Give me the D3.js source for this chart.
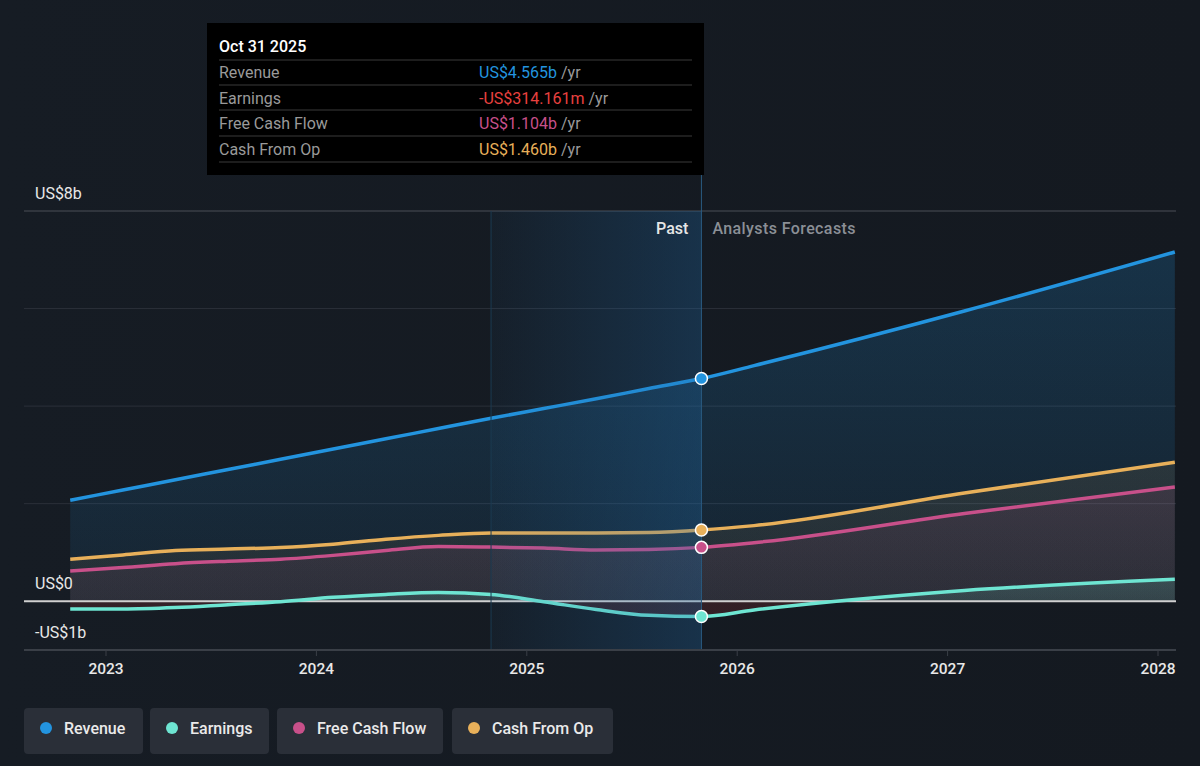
<!DOCTYPE html>
<html><head><meta charset="utf-8">
<script src="https://cdn.jsdelivr.net/npm/d3@7"></script>
<style>
html,body{margin:0;padding:0;background:#151a22;}
svg{display:block;font-family:Roboto,"Noto Sans",sans-serif;}
</style></head>
<body><svg id="c" width="1200" height="766"></svg>
<script>
// ---- data (billions USD, decimal years) ----
const pastDates = [2022.83,2023.08,2023.33,2023.58,2023.83,2024.08,2024.33,2024.58,2024.83,2025.08,2025.33,2025.58,2025.83];
const forecastDates = [2025.83,2026.08,2027.08,2028.08];
const revenuePast = [2.07,2.28,2.49,2.70,2.91,3.12,3.33,3.54,3.75,3.95,4.15,4.36,4.565];
const revenueForecast = [4.565,4.83,5.95,7.16];
const earningsPast = [-0.16,-0.16,-0.13,-0.07,-0.01,0.08,0.14,0.18,0.14,-0.01,-0.17,-0.29,-0.314];
const earningsForecast = [-0.314,-0.18,0.22,0.45];
const fcfPast = [0.62,0.69,0.77,0.82,0.86,0.94,1.04,1.12,1.11,1.09,1.05,1.06,1.104];
const fcfForecast = [1.104,1.20,1.80,2.34];
const cfoPast = [0.86,0.95,1.04,1.07,1.10,1.17,1.27,1.35,1.40,1.40,1.40,1.41,1.46];
const cfoForecast = [1.46,1.55,2.22,2.85];
const seriesNames = ["Revenue","Earnings","Free Cash Flow","Cash From Op"];
const seriesColors = ["#2394df","#6ee5d2","#c8508a","#e8b05a"];
const yTicks = [8,0,-1];
const yTickLabels = ["US$8b","US$0","-US$1b"];
const gridValues = [8,6,4,2];
const xTicks = [2023,2024,2025,2026,2027,2028];
const pastStart = 2024.83, nowDate = 2025.83;
const tooltipDate = "Oct 31 2025";
const tooltipValues = ["US$4.565b","-US$314.161m","US$1.104b","US$1.460b"];
const tooltipColors = ["#2394df","#e8413f","#c8508a","#e8b05a"];

const svg = d3.select("#c");
const x = d3.scaleLinear().domain([2023,2028]).range([106,1158]);
const y = d3.scaleLinear().domain([-1,8]).range([650,211]);
const L = 24, R = 1176;

const join = (d1,v1,d2,v2) => d1.map((d,i)=>({x:d,v:v1[i]})).concat(d2.slice(1).map((d,i)=>({x:d,v:v2[i+1]})));
const series = [
  join(pastDates,revenuePast,forecastDates,revenueForecast),
  join(pastDates,earningsPast,forecastDates,earningsForecast),
  join(pastDates,fcfPast,forecastDates,fcfForecast),
  join(pastDates,cfoPast,forecastDates,cfoForecast)
];

const defs = svg.append("defs");
const bg = defs.append("linearGradient").attr("id","bg").attr("x1",0).attr("x2",1).attr("y1",0).attr("y2",0);
bg.append("stop").attr("offset",0).attr("stop-color","#161c24");
bg.append("stop").attr("offset",1).attr("stop-color","#141920");
svg.append("rect").attr("width",1200).attr("height",766).attr("fill","url(#bg)");

// gridlines
svg.selectAll(".grid").data(gridValues).enter().append("line")
  .attr("x1",L).attr("x2",R).attr("y1",d=>y(d)).attr("y2",d=>y(d))
  .attr("stroke",(d,i)=>i===0?"#4a4f57":"#2b3039").attr("stroke-width",1);

// area fills
const fillOp = [[0.22,0.08],[0.28,0.1],[0.25,0.06],[0.16,0.06]];
[0,3,2].forEach(i=>{
  const g = defs.append("linearGradient").attr("id","ag"+i).attr("gradientUnits","userSpaceOnUse")
    .attr("x1",0).attr("x2",0).attr("y1",y(8)).attr("y2",y(0));
  g.append("stop").attr("offset",0).attr("stop-color",seriesColors[i]).attr("stop-opacity",fillOp[i][0]);
  g.append("stop").attr("offset",1).attr("stop-color",seriesColors[i]).attr("stop-opacity",fillOp[i][1]);
});
const eg = defs.append("linearGradient").attr("id","ag1").attr("gradientUnits","userSpaceOnUse")
  .attr("x1",0).attr("x2",0).attr("y1",y(1)).attr("y2",y(-1));
eg.append("stop").attr("offset",0).attr("stop-color","#6ee5d2").attr("stop-opacity",0.22);
eg.append("stop").attr("offset",0.5).attr("stop-color","#6ee5d2").attr("stop-opacity",0.12);
eg.append("stop").attr("offset",0.5).attr("stop-color","#e8413f").attr("stop-opacity",0.14);
eg.append("stop").attr("offset",1).attr("stop-color","#e8413f").attr("stop-opacity",0.14);

const curve = d3.curveMonotoneX;
const area = d3.area().x(d=>x(d.x)).y0(y(0)).y1(d=>y(d.v)).curve(curve);
const line = d3.line().x(d=>x(d.x)).y(d=>y(d.v)).curve(curve);

[0,3,2,1].forEach(i=>{
  svg.append("path").datum(series[i]).attr("d",area).attr("fill","url(#ag"+i+")");
});

// zero line
svg.append("line").attr("x1",L).attr("x2",R).attr("y1",y(0)).attr("y2",y(0))
  .attr("stroke","#d0d0d0").attr("stroke-width",2);

// lines
[0,3,2,1].forEach(i=>{
  svg.append("path").datum(series[i]).attr("d",line).attr("fill","none")
    .attr("stroke",seriesColors[i]).attr("stroke-width",3.5).attr("stroke-linejoin","round");
});

// past highlight overlay
const pg = defs.append("linearGradient").attr("id","pg").attr("x1",0).attr("x2",1).attr("y1",0).attr("y2",0);
pg.append("stop").attr("offset",0).attr("stop-color","#1f6aa8").attr("stop-opacity",0.06);
pg.append("stop").attr("offset",1).attr("stop-color","#1f6aa8").attr("stop-opacity",0.3);
svg.append("rect").attr("x",x(pastStart)).attr("y",y(8)).attr("width",x(nowDate)-x(pastStart)).attr("height",y(-1)-y(8))
  .attr("fill","url(#pg)");
svg.append("line").attr("x1",x(pastStart)).attr("x2",x(pastStart)).attr("y1",y(8)).attr("y2",y(-1))
  .attr("stroke","#1b3a52").attr("stroke-width",1);
svg.append("line").attr("x1",x(nowDate)).attr("x2",x(nowDate)).attr("y1",175).attr("y2",y(-1))
  .attr("stroke","#2a5a80").attr("stroke-width",1);

// markers
[3,2,0,1].forEach(i=>{
  svg.append("circle").attr("cx",x(nowDate)).attr("cy",y(series[i].find(d=>d.x===nowDate).v)).attr("r",6)
    .attr("fill",seriesColors[i]).attr("stroke","#fff").attr("stroke-width",1.5);
});

// x axis
svg.append("line").attr("x1",L).attr("x2",R).attr("y1",y(-1)).attr("y2",y(-1)).attr("stroke","#3a3f47").attr("stroke-width",2);
const xa = svg.append("g");
xa.selectAll("line").data(xTicks).enter().append("line")
  .attr("x1",d=>x(d)).attr("x2",d=>x(d)).attr("y1",y(-1)).attr("y2",y(-1)+6).attr("stroke","#3a3f47");
xa.selectAll("text").data(xTicks).enter().append("text")
  .attr("x",d=>x(d)).attr("y",674).attr("text-anchor","middle").attr("fill","#e8e8e8")
  .attr("font-size",15.5).attr("font-weight",500).text(d=>d);

// y labels
svg.selectAll(".yl").data(yTicks).enter().append("text")
  .attr("x",35).attr("y",d=>y(d)-12).attr("fill","#e8e8e8").attr("font-size",16)
  .text((d,i)=>yTickLabels[i]);

// Past / forecast labels
svg.append("text").attr("x",x(nowDate)-13).attr("y",234).attr("text-anchor","end").attr("fill","#e6e6e6")
  .attr("font-size",16).attr("font-weight",500).text("Past");
svg.append("text").attr("x",x(nowDate)+11).attr("y",234).attr("fill","#8b8f96")
  .attr("font-size",16).attr("font-weight",500).attr("letter-spacing",0.4).text("Analysts Forecasts");

// tooltip
const tt = svg.append("g");
tt.append("rect").attr("x",207).attr("y",23).attr("width",497).attr("height",152).attr("fill","#000");
tt.append("text").attr("x",219).attr("y",52).attr("fill","#fff").attr("font-size",16).attr("font-weight",500).text(tooltipDate);
[60,85,110,136,162].forEach(yy=>tt.append("line").attr("x1",219).attr("x2",692).attr("y1",yy).attr("y2",yy).attr("stroke","#3a3a3a"));
seriesNames.forEach((n,i)=>{
  const yy = 78 + i*25.5;
  tt.append("text").attr("x",219).attr("y",yy).attr("fill","#9a9a9a").attr("font-size",16).text(n);
  const t = tt.append("text").attr("x",479).attr("y",yy).attr("font-size",16);
  t.append("tspan").attr("fill",tooltipColors[i]).text(tooltipValues[i]);
  t.append("tspan").attr("fill","#9a9a9a").text(" /yr");
});

// legend
const legX = [24,150,277,452], legW = [119,119,166,161];
const lg = svg.append("g");
seriesNames.forEach((n,i)=>{
  lg.append("rect").attr("x",legX[i]).attr("y",708).attr("width",legW[i]).attr("height",46).attr("rx",4).attr("fill","#2a2f38");
  lg.append("circle").attr("cx",legX[i]+22).attr("cy",728).attr("r",6).attr("fill",seriesColors[i]);
  lg.append("text").attr("x",legX[i]+40).attr("y",734).attr("fill","#eaeaea").attr("font-size",16).attr("font-weight",500).text(n);
});
</script></body></html>
